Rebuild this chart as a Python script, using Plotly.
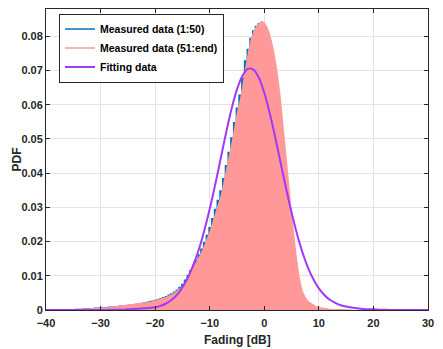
import plotly.graph_objects as go

# histogram bin centres (0.5 dB bins)
bin_centres = [-35 + 0.5 * i for i in range(103)]

measured_51_end = [
    0.0003, 0.0003, 0.0004, 0.0004, 0.0004, 0.0005, 0.0005, 0.0006, 0.0006, 0.0007,
    0.0007, 0.0008, 0.0008, 0.0009, 0.0010, 0.0010, 0.0011, 0.0012, 0.0012, 0.0013,
    0.0014, 0.0015, 0.0016, 0.0017, 0.0018, 0.0020, 0.0021, 0.0023, 0.0024, 0.0026,
    0.0028, 0.0030, 0.0033, 0.0036, 0.0039, 0.0042, 0.0046, 0.0051, 0.0056, 0.0063,
    0.0070, 0.0082, 0.0095, 0.0110, 0.0125, 0.0140, 0.0155, 0.0172, 0.0190, 0.0210,
    0.0232, 0.0257, 0.0285, 0.0310, 0.0335, 0.0372, 0.0410, 0.0448, 0.0490, 0.0535,
    0.0580, 0.0612, 0.0660, 0.0718, 0.0755, 0.0790, 0.0815, 0.0830, 0.0838, 0.0845,
    0.0842, 0.0830, 0.0810, 0.0780, 0.0740, 0.0690, 0.0625, 0.0550, 0.0470, 0.0380,
    0.0290, 0.0215, 0.0150, 0.0095, 0.0058, 0.0040, 0.0028, 0.0022, 0.0016, 0.0012,
    0.0009, 0.0007, 0.0006, 0.0005, 0.0004, 0.0003, 0.0003, 0.0002, 0.0002, 0.0002,
    0.0001, 0.0001, 0.0001,
]

measured_1_50 = [
    0.0003, 0.0004, 0.0004, 0.0004, 0.0005, 0.0005, 0.0006, 0.0006, 0.0007, 0.0007,
    0.0008, 0.0008, 0.0009, 0.0010, 0.0010, 0.0011, 0.0012, 0.0013, 0.0013, 0.0014,
    0.0015, 0.0016, 0.0017, 0.0018, 0.0020, 0.0021, 0.0023, 0.0024, 0.0026, 0.0028,
    0.0030, 0.0032, 0.0035, 0.0038, 0.0041, 0.0045, 0.0049, 0.0054, 0.0060, 0.0068,
    0.0077, 0.0089, 0.0102, 0.0117, 0.0132, 0.0147, 0.0163, 0.0180, 0.0199, 0.0220,
    0.0243, 0.0269, 0.0296, 0.0322, 0.0350, 0.0386, 0.0424, 0.0463, 0.0505, 0.0550,
    0.0592, 0.0630, 0.0680, 0.0730, 0.0764, 0.0796, 0.0818, 0.0831, 0.0838, 0.0843,
    0.0830, 0.0810, 0.0780, 0.0740, 0.0690, 0.0625, 0.0550, 0.0470, 0.0380, 0.0290,
    0.0215, 0.0150, 0.0095, 0.0058, 0.0040, 0.0028, 0.0022, 0.0016, 0.0012, 0.0009,
    0.0007, 0.0006, 0.0005, 0.0004, 0.0003, 0.0003, 0.0002, 0.0002, 0.0002, 0.0001,
    0.0001, 0.0001, 0.0001,
]

# fitted pdf, 1 dB steps from -40 to 30
fit_x = list(range(-40, 31))
fit_pdf = [
    0.0000, 0.0000, 0.0000, 0.0000, 0.0000, 0.0000, 0.0000, 0.0000, 0.0000, 0.0000,
    0.0000, 0.0000, 0.0001, 0.0001, 0.0001, 0.0002, 0.0003, 0.0004, 0.0005, 0.0006,
    0.0008, 0.0012, 0.0019, 0.0029, 0.0044, 0.0066, 0.0095, 0.0132, 0.0177, 0.0232,
    0.0295, 0.0366, 0.0442, 0.0518, 0.0588, 0.0645, 0.0685, 0.0705, 0.0703, 0.0679,
    0.0635, 0.0575, 0.0505, 0.0430, 0.0355, 0.0285, 0.0222, 0.0168, 0.0124, 0.0090,
    0.0063, 0.0044, 0.0030, 0.0021, 0.0014, 0.0010, 0.0007, 0.0005, 0.0003, 0.0002,
    0.0002, 0.0001, 0.0001, 0.0000, 0.0000, 0.0000, 0.0000, 0.0000, 0.0000, 0.0000,
    0.0000,
]

blue = '#0072BD'
pink = '#FF9999'
purple = '#A338F5'
font_name = 'Liberation Sans, Arial, sans-serif'

fig = go.Figure()

# histograms drawn as filled areas (blue stairs under pink)
fig.add_trace(go.Scatter(x=bin_centres, y=measured_1_50, mode='lines', line_shape='hvh',
                         line=dict(color=blue, width=0), fill='tozeroy', fillcolor=blue,
                         showlegend=False))
fig.add_trace(go.Scatter(x=bin_centres, y=measured_51_end, mode='lines', line_shape='linear',
                         line=dict(color=pink, width=0), fill='tozeroy', fillcolor=pink,
                         showlegend=False))
fig.add_trace(go.Scatter(x=fit_x, y=fit_pdf, mode='lines', line_shape='spline',
                         line=dict(color=purple, width=2), showlegend=False))

# legend entries (line samples)
fig.add_trace(go.Scatter(x=[None], y=[None], mode='lines', line=dict(color=blue, width=1.5),
                         name='Measured data (1:50)'))
fig.add_trace(go.Scatter(x=[None], y=[None], mode='lines', line=dict(color=pink, width=1.5),
                         name='Measured data (51:end)'))
fig.add_trace(go.Scatter(x=[None], y=[None], mode='lines', line=dict(color=purple, width=2),
                         name='Fitting data'))

axis_font = dict(family=font_name, size=11, color='#262626', weight='bold')
title_font = dict(family=font_name, size=12, color='#262626', weight='bold')

# page body adds an 8px margin, so the figure is sized to fit the 443x349 window
fig.update_layout(
    width=435, height=341,
    margin=dict(l=38, r=15, t=1, b=39),
    paper_bgcolor='white', plot_bgcolor='white',
    font=axis_font,
    legend=dict(x=0.034, y=0.985, xanchor='left', yanchor='top',
                bgcolor='white', bordercolor='#262626', borderwidth=1,
                font=dict(family=font_name, size=10.5, color='black', weight='bold'),
                tracegroupgap=0, itemwidth=30),
    annotations=[
        dict(text='Fading [dB]', xref='paper', yref='paper', x=0.5, y=0,
             xanchor='center', yanchor='middle', yshift=-30, showarrow=False, font=title_font),
        dict(text='PDF', xref='paper', yref='paper', x=0, y=0.5, textangle=-90,
             xanchor='center', yanchor='middle', xshift=-30, showarrow=False, font=title_font),
    ],
)
fig.update_xaxes(
    range=[-40, 30], dtick=10, tick0=-40, automargin=False,
    showgrid=True, gridcolor='#e3e3e3', gridwidth=1,
    showline=True, linecolor='#262626', linewidth=1, mirror='ticks',
    ticks='inside', ticklen=4, tickcolor='#262626', zeroline=False,
    tickfont=axis_font, ticklabelstandoff=3,
)
fig.update_yaxes(
    range=[0, 0.088], dtick=0.01, tick0=0, automargin=False,
    showgrid=True, gridcolor='#e3e3e3', gridwidth=1,
    showline=True, linecolor='#262626', linewidth=1, mirror='ticks',
    ticks='inside', ticklen=4, tickcolor='#262626', zeroline=False,
    tickfont=axis_font,
)

fig.write_html("out.html")
